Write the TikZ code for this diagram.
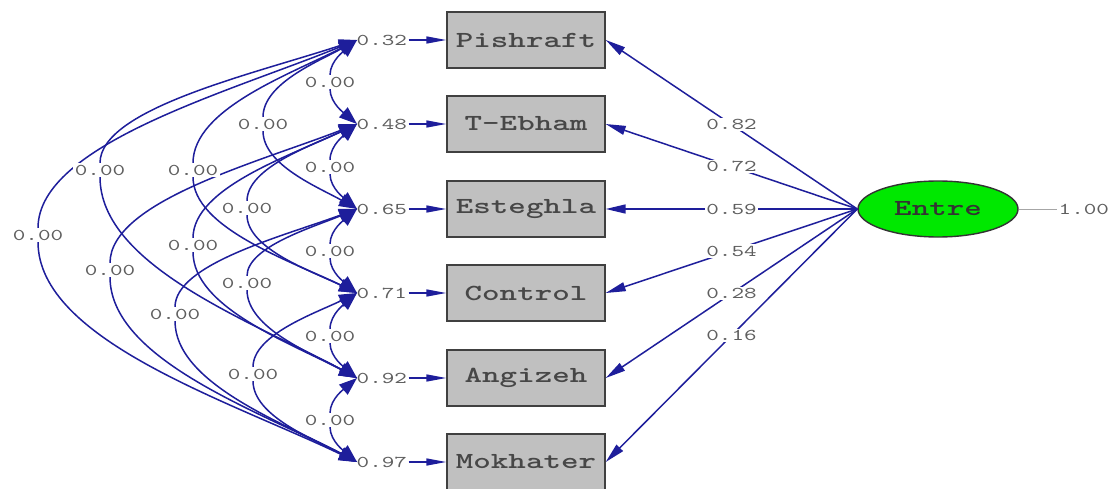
\documentclass[tikz,border=0pt]{standalone}
\usepackage{fontspec}
\usetikzlibrary{arrows.meta,shapes.geometric}
\newfontfamily\lis[FakeStretch=1.45]{lmmono10-regular.otf}
\newfontfamily\lisb[FakeStretch=1.45]{lmmonolt10-bold.otf}
\definecolor{lblue}{RGB}{30,30,155}
\definecolor{txt}{RGB}{95,95,95}
\definecolor{boxgray}{RGB}{192,192,192}
\definecolor{entgreen}{RGB}{0,232,0}
\pgfdeclarelayer{bg}
\pgfsetlayers{bg,main}
\tikzset{
  obsbox/.style={draw=black!75, fill=boxgray, line width=1.4pt, minimum width=158pt,
    minimum height=56pt, inner sep=0pt, font=\lisb\fontsize{23}{23}\selectfont, text=black!72},
  lab/.style={font=\lis\fontsize{16.5}{16.5}\selectfont, text=txt, inner sep=1.5pt},
  wlab/.style={lab, fill=white},
  cov/.style={draw=lblue, line width=1.5pt, -{Triangle[length=18pt,width=13pt]}},
  load/.style={draw=lblue, line width=1.5pt, -{Triangle[length=20pt,width=9pt]}},
  errarr/.style={draw=lblue, line width=1.5pt, -{Triangle[length=20pt,width=7pt]}},
  latent/.style={ellipse, draw=black!80, fill=entgreen, line width=1.4pt, minimum width=160pt,
    minimum height=56pt, inner sep=0pt, font=\lisb\fontsize{23}{23}\selectfont, text=black!80}
}
\begin{document}
\begin{tikzpicture}[x=1pt,y=-1pt]
\clip (0,0) rectangle (1115,489);
\begin{pgfonlayer}{bg}
\fill[white] (0,0) rectangle (1115,489);
\end{pgfonlayer}
% observed boxes
\node[obsbox] (b1) at (526,40) {Pishraft};
\node[obsbox] (b2) at (526,124) {T-Ebham};
\node[obsbox] (b3) at (526,209) {Esteghla};
\node[obsbox] (b4) at (526,293) {Control};
\node[obsbox] (b5) at (526,378) {Angizeh};
\node[obsbox] (b6) at (526,462) {Mokhater};
% latent
\node[latent] (en) at (938,209) {Entre};
\node[lab, anchor=west] (one) at (1057,209) {1.00};
\draw[black!35, line width=0.6pt] (en.east) -- (one.west);
% loadings
\draw[load] (en.west) -- node[wlab, pos=0.5] {0.82} (b1.east);
\draw[load] (en.west) -- node[wlab, pos=0.5] {0.72} (b2.east);
\draw[load] (en.west) -- node[wlab, pos=0.5] {0.59} (b3.east);
\draw[load] (en.west) -- node[wlab, pos=0.5] {0.54} (b4.east);
\draw[load] (en.west) -- node[wlab, pos=0.5] {0.28} (b5.east);
\draw[load] (en.west) -- node[wlab, pos=0.5] {0.16} (b6.east);
% error tips and values
\foreach \k/\y/\v in {1/40/0.32, 2/124/0.48, 3/209/0.65, 4/293/0.71, 5/378/0.92, 6/462/0.97}{
  \coordinate (t\k) at (357,\y);
  \node[lab, anchor=west] (e\k) at (355,\y) {\v};
  \draw[errarr] (e\k.east) -- (b\k.west);
}
% covariances
\foreach \i/\j/\lx/\ly in {1/2/330/82, 2/3/330/167, 3/4/330/251, 4/5/330/336, 5/6/330/420,
  1/3/263/124, 2/4/247/208, 3/5/247/283, 4/6/253/374,
  1/4/193/170, 2/5/193/245, 3/6/175/314,
  1/5/100/170, 2/6/110/270, 1/6/38/235}{
  \node[wlab] (c\i\j) at (\lx,\ly) {0.00};
  \pgfmathsetmacro\yi{{40,124,209,293,378,462}[\i-1]}
  \pgfmathsetmacro\yj{{40,124,209,293,378,462}[\j-1]}
  \pgfmathsetmacro\dxa{357-\lx}
  \pgfmathsetmacro\dya{\ly-9-\yi}
  \pgfmathsetmacro\dyb{\yj-\ly-9}
  \begin{pgfonlayer}{bg}
  \draw[cov] (c\i\j.north) .. controls +(0,{-0.45*\dya}) and +({-0.4*\dxa},{0.28*\dya}) .. (t\i);
  \draw[cov] (c\i\j.south) .. controls +(0,{0.45*\dyb}) and +({-0.4*\dxa},{-0.28*\dyb}) .. (t\j);
  \end{pgfonlayer}
}
\end{tikzpicture}
\end{document}
